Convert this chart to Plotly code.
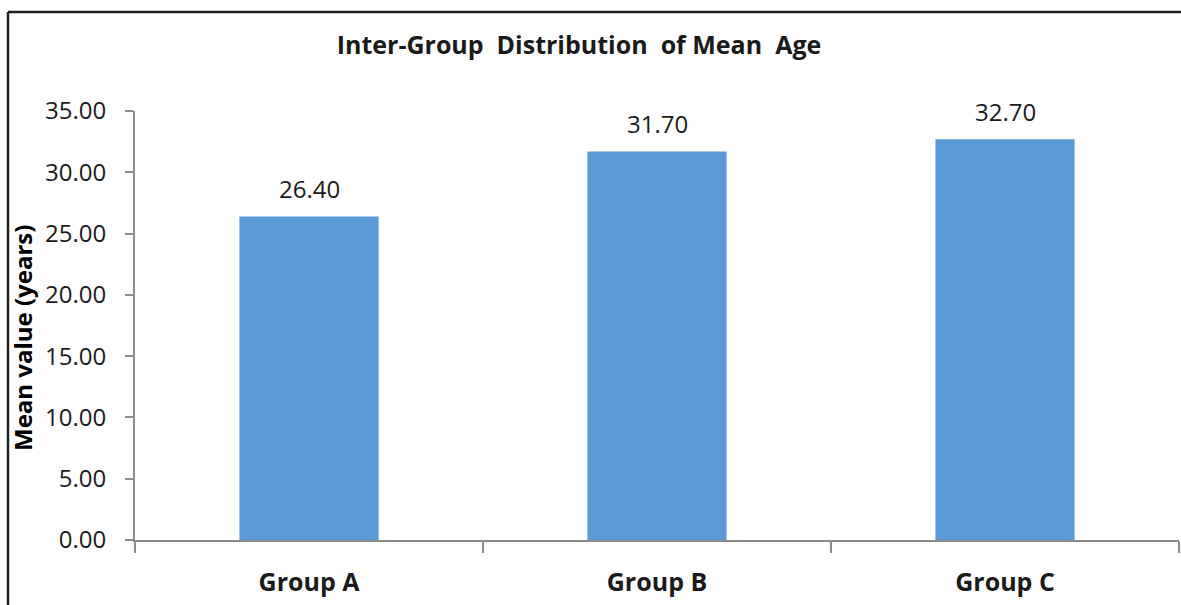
import plotly.graph_objects as go

categories = ["Group A", "Group B", "Group C"]
mean_age = [26.40, 31.70, 32.70]
y_ticks = [0, 5, 10, 15, 20, 25, 30, 35]
y_tick_labels = [f"{v:.2f}" for v in y_ticks]

W, H = 1181, 605
L, R, T, B = 135, 2, 111, 65
pw, ph = W - L - R, H - T - B

FONT = "Open Sans"
TXT = "#1a1a1a"
AX = "#8c8c8c"

fig = go.Figure()
fig.add_trace(go.Bar(
    x=categories, y=mean_age,
    marker=dict(color="#5B9BD5", line=dict(width=0)),
    width=0.4, hoverinfo="skip",
))

for c, v in zip(categories, mean_age):
    fig.add_annotation(x=c, y=v, text=f"{v:.2f}", showarrow=False,
                       yanchor="middle", yshift=28,
                       font=dict(family=FONT, size=24, color=TXT))

def px_to_paper_x(px):
    return (px - L) / pw

def px_to_paper_y(py):
    return (H - B - py) / ph

# outer frame (top and left lines)
fig.add_shape(type="line", xref="paper", yref="paper",
              x0=px_to_paper_x(8), x1=px_to_paper_x(W + 5),
              y0=px_to_paper_y(12), y1=px_to_paper_y(12),
              line=dict(color="#222222", width=2.5))
fig.add_shape(type="line", xref="paper", yref="paper",
              x0=px_to_paper_x(8), x1=px_to_paper_x(8),
              y0=px_to_paper_y(12), y1=px_to_paper_y(H + 5),
              line=dict(color="#222222", width=2.5))

# y-axis title
fig.add_annotation(xref="paper", yref="paper",
                   x=px_to_paper_x(22), y=px_to_paper_y(338),
                   xanchor="center", yanchor="middle", textangle=-90,
                   text="<b>Mean value (years)</b>", showarrow=False,
                   font=dict(family=FONT, size=24, color="#000000"))

fig.update_layout(
    width=W, height=H,
    margin=dict(l=L, r=R, t=T, b=B),
    paper_bgcolor="white", plot_bgcolor="white",
    showlegend=False,
    title=dict(text="<b>Inter-Group  Distribution  of Mean  Age</b>",
               x=579 / W, xanchor="center", y=1 - 45 / H, yanchor="middle",
               font=dict(family=FONT, size=25, color=TXT)),
    xaxis=dict(
        type="category", tickson="boundaries",
        showline=True, linecolor=AX, linewidth=2,
        ticks="outside", ticklen=11, tickcolor=AX, tickwidth=2,
        ticklabelstandoff=19,
        tickfont=dict(family=FONT, size=25, color=TXT),
        ticktext=[f"<b>{c}</b>" for c in categories], tickvals=categories,
        showgrid=False, zeroline=False,
    ),
    yaxis=dict(
        range=[0, 35], tickvals=y_ticks, ticktext=y_tick_labels,
        showline=True, linecolor=AX, linewidth=2,
        ticks="outside", ticklen=8, tickcolor=AX, tickwidth=2,
        ticklabelstandoff=14,
        tickfont=dict(family=FONT, size=24, color=TXT),
        showgrid=False, zeroline=False,
    ),
)

fig.write_html("out.html")
